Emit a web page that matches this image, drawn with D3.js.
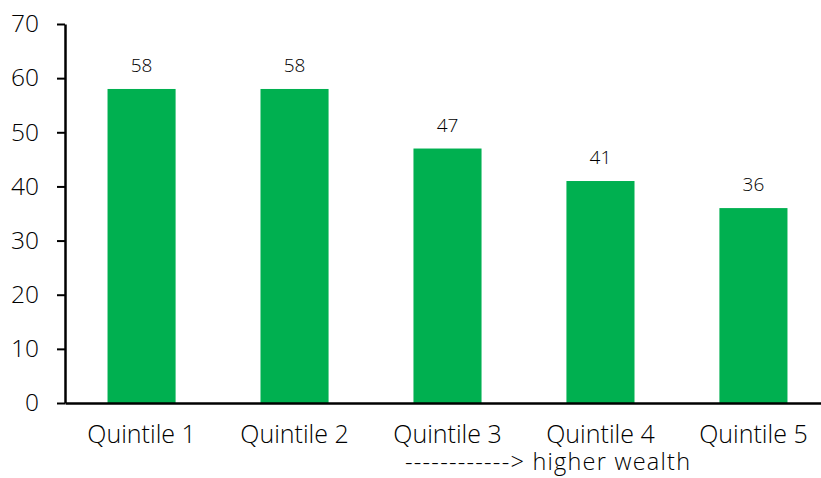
<!DOCTYPE html>
<html>
<head>
<meta charset="utf-8">
<script src="https://cdn.jsdelivr.net/npm/d3@7"></script>
<style>
  html, body { margin: 0; padding: 0; background: #fff; }
  svg { display: block; font-family: "Open Sans", "Noto Sans", sans-serif; }
</style>
</head>
<body>
<svg id="chart" width="821" height="478"></svg>
<script>
const categories = ["Quintile 1", "Quintile 2", "Quintile 3", "Quintile 4", "Quintile 5"];
const values = [58, 58, 47, 41, 36];
const yTicks = [0, 10, 20, 30, 40, 50, 60, 70];
const subtitle = "------------> higher wealth";

const svg = d3.select("#chart");
const plotLeft = 65, plotTop = 24, plotBottom = 403, plotRight = 830;
const font = "Open Sans, Noto Sans, sans-serif";
const ink = "#000";
const weight = 350;

const x = d3.scaleBand().domain(categories).range([plotLeft, plotRight]).paddingInner(0.555).paddingOuter(0.278);
const y = d3.scaleLinear().domain([0, 70]).range([plotBottom, plotTop]);

// bars
svg.append("g").selectAll("rect").data(values).join("rect")
  .attr("x", (d, i) => x(categories[i]))
  .attr("y", d => y(d))
  .attr("width", x.bandwidth())
  .attr("height", d => y(0) - y(d))
  .attr("fill", "#00B050");

// value labels
svg.append("g").selectAll("text").data(values).join("text")
  .attr("x", (d, i) => x(categories[i]) + x.bandwidth() / 2)
  .attr("y", d => y(d) - 17)
  .attr("text-anchor", "middle")
  .attr("font-size", 19)
  .attr("font-weight", weight)
  .attr("fill", ink)
  .text(d => d);

// y axis
const yAxis = svg.append("g").attr("transform", `translate(${plotLeft},0)`)
  .call(d3.axisLeft(y).tickValues(yTicks).tickSize(8).tickPadding(18).tickSizeOuter(0));
yAxis.select(".domain").attr("stroke", "#000").attr("stroke-width", 2.5);
yAxis.selectAll(".tick line").attr("stroke", "#000").attr("stroke-width", 2);
yAxis.selectAll(".tick text").attr("font-size", 24.5).attr("font-weight", weight)
  .attr("fill", ink).attr("font-family", font);

// x axis
const xAxis = svg.append("g").attr("transform", `translate(0,${plotBottom})`)
  .call(d3.axisBottom(x).tickSize(0).tickPadding(22));
xAxis.select(".domain").attr("stroke", "#000").attr("stroke-width", 2.5);
xAxis.selectAll(".tick text").attr("font-size", 25).attr("font-weight", weight)
  .attr("fill", ink).attr("font-family", font);

// direction note under the categories
svg.append("text")
  .attr("x", 405)
  .attr("y", 470)
  .attr("font-size", 23.5)
  .attr("font-weight", weight)
  .attr("fill", ink)
  .attr("textLength", 285)
  .text(subtitle);
</script>
</body>
</html>
